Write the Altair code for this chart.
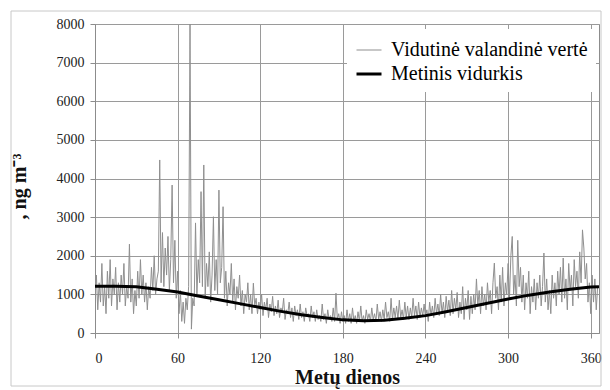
import altair as alt
import pandas as pd

# Daily representative values of the hourly series (ng m-3), days 0..365
hourly_vals = [
    900, 1500, 600, 1300, 800, 1800, 700, 1200, 500, 1600,
    900, 1900, 700, 1400, 1000, 1700, 600, 1300, 800, 1500,
    1000, 1800, 700, 1200, 900, 2300, 800, 1400, 500, 1100,
    700, 1600, 900, 1900, 1000, 1500, 800, 1300, 600, 1200,
    900, 1700, 1100, 2000, 1000, 1400, 1600, 4480, 1300, 2600,
    1200, 2200, 1500, 2500, 1100, 1900, 3830, 1300, 2400, 900,
    1600, 500, 1100, 300, 800, 250, 900, 600, 1200, 8000,
    100, 900, 700, 2850, 1000, 1900, 1300, 3660, 1200, 4350,
    900, 1800, 1200, 2100, 800, 1500, 3010, 1100, 1900, 1000,
    3700, 1300, 1700, 3270, 900, 1600, 700, 1300, 1000, 1800,
    800, 1400, 600, 1200, 900, 1500, 700, 1100, 500, 1000,
    800, 1300, 600, 1000, 500, 1290, 700, 900, 500, 800,
    600, 1000, 450, 800, 600, 900, 400, 750, 550, 950,
    450, 700, 500, 850, 400, 650, 550, 900, 350, 600,
    500, 800, 400, 650, 300, 700, 450, 600, 350, 750,
    400, 550, 300, 650, 450, 500, 300, 700, 400, 550,
    300, 600, 350, 450, 300, 750, 350, 500, 250, 600,
    350, 450, 300, 650, 300, 1030, 350, 500, 250, 550,
    300, 450, 250, 600, 300, 500, 250, 650, 300, 450,
    250, 550, 300, 700, 300, 450, 250, 600, 350, 500,
    300, 650, 350, 500, 300, 750, 350, 550, 300, 600,
    350, 800, 400, 550, 300, 900, 350, 650, 400, 700,
    350, 850, 400, 600, 350, 800, 400, 700, 350, 650,
    400, 900, 450, 700, 350, 800, 400, 650, 450, 750,
    400, 600, 300, 800, 450, 700, 400, 900, 500, 750,
    450, 1000, 500, 800, 400, 950, 550, 850, 450, 1100,
    500, 900, 600, 1050, 400, 800, 500, 1200, 350, 900,
    600, 1100, 350, 950, 500, 1000, 600, 1400, 700, 1100,
    500, 1200, 700, 1000, 600, 1300, 800, 1100, 500, 1300,
    1810, 900, 1200, 600, 1500, 800, 1700, 700, 1300, 1000,
    1800, 900, 2000, 2500, 1000, 1500, 700, 2400, 1200, 1700,
    800, 1500, 600, 1300, 900, 1600, 500, 1200, 800, 1400,
    600, 1300, 900, 1500, 700, 1200, 2070, 800, 1400, 600,
    1100, 500, 1500, 900, 1300, 700, 1600, 1000, 1700, 800,
    1940, 900, 1400, 600, 1800, 1100, 1500, 700, 1900, 1200,
    1600, 900, 2100, 1300, 2670, 2200, 1400, 1800, 800, 1300,
    500, 1500, 800, 1400, 600, 1200,
]
hourly_days = list(range(len(hourly_vals)))

avg_days = [0, 15, 30, 45, 60, 75, 90, 105, 120, 135, 150, 165, 180,
            195, 210, 225, 240, 255, 270, 285, 300, 315, 330, 345, 360, 366]
avg_vals = [1210, 1210, 1200, 1130, 1060, 960, 860, 760, 660, 560, 470, 400, 340,
            320, 330, 380, 450, 550, 660, 770, 880, 980, 1060, 1130, 1190, 1200]

x_ticks = [0, 60, 120, 180, 240, 300, 360]
y_ticks = [0, 1000, 2000, 3000, 4000, 5000, 6000, 7000, 8000]
series = ["Vidutinė valandinė vertė", "Metinis vidurkis"]
series_colors = ["#8f8f8f", "#000000"]
series_widths = [1, 3]

df1 = pd.DataFrame({"day": hourly_days, "v": hourly_vals, "s": series[0]})
df2 = pd.DataFrame({"day": avg_days, "v": avg_vals, "s": series[1]})

FONT = "Liberation Serif"

x_enc = alt.X("day:Q",
              scale=alt.Scale(domain=[0, 366], nice=False, zero=False),
              axis=alt.Axis(values=x_ticks, title="Metų dienos", labelPadding=13,
                            format="d", labelFont=FONT, labelFontSize=14,
                            titleFont=FONT, titleFontSize=20,
                            titleFontWeight="bold", titlePadding=2))
y_enc = alt.Y("v:Q",
              scale=alt.Scale(domain=[0, 8000], nice=False),
              axis=alt.Axis(values=y_ticks, title=", ng m⁻³", labelPadding=6,
                            format="d", labelFont=FONT, labelFontSize=14,
                            titleFont=FONT, titleFontSize=20, titleFontWeight="bold",
                            titleX=-76, titleY=162, titleAngle=-90,
                            titleAlign="center", titleBaseline="middle"))

leg = alt.Legend(orient="none", legendX=252, legendY=5, fillColor="white",
                 padding=8, symbolType="stroke", symbolSize=625, title=None,
                 labelFont=FONT, labelFontSize=20, labelColor="black",
                 labelLimit=400, rowPadding=0, labelOffset=8)

color_enc = alt.Color("s:N", scale=alt.Scale(domain=series, range=series_colors), legend=leg)
sw_enc = alt.StrokeWidth("s:N", scale=alt.Scale(domain=series, range=series_widths), legend=leg)

gray = alt.Chart(df1).mark_line(clip=True).encode(x=x_enc, y=y_enc, color=color_enc, strokeWidth=sw_enc)
black = alt.Chart(df2).mark_line(clip=True).encode(x=x_enc, y=y_enc, color=color_enc, strokeWidth=sw_enc)

frame = alt.Chart(pd.DataFrame({"a": [0]})).mark_rect(
    fill=None, stroke="#c8c8c8", strokeWidth=1, clip=False
).encode(x=alt.value(-84), x2=alt.value(506), y=alt.value(-13), y2=alt.value(362))

chart = alt.layer(gray, black, frame).properties(
    width=504, height=309,
    padding={"left": 87, "top": 16, "right": 3, "bottom": 57},
    autosize=alt.AutoSizeParams(type="none"),
).configure_view(
    stroke="#8c8c8c", strokeWidth=1
).configure_axis(
    labelColor="#222222", titleColor="#111111",
    gridColor="#9a9a9a", gridWidth=1, gridOpacity=1,
    domainColor="#8c8c8c", tickColor="#8c8c8c", tickSize=5,
)

chart.save("out.html", embed_options={"renderer": "svg", "actions": False})
